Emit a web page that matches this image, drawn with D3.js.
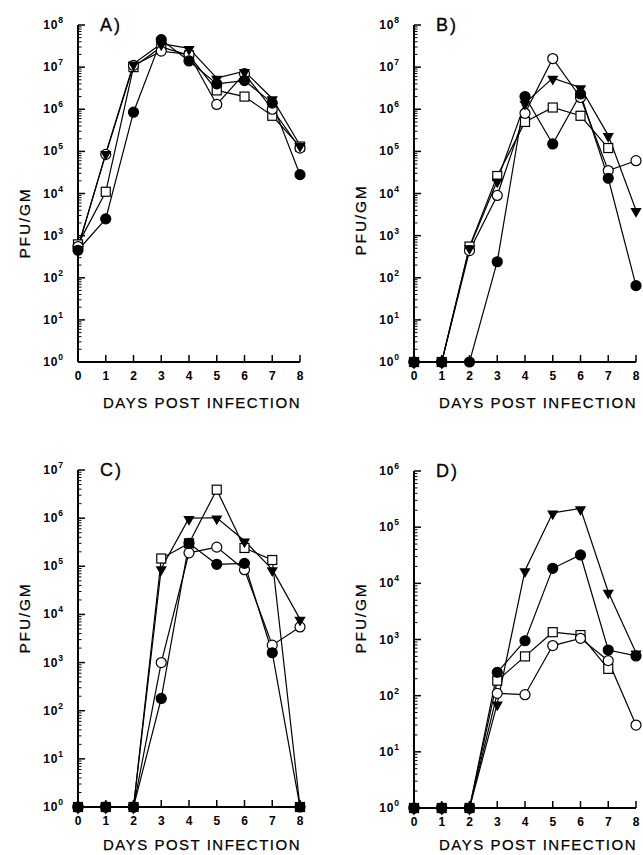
<!DOCTYPE html>
<html>
<head>
<meta charset="utf-8">
<script src="https://cdn.jsdelivr.net/npm/d3@7/dist/d3.min.js"></script>
<style>
  body { margin: 0; background: #fff; }
  text { font-family: "Liberation Sans", Arial, sans-serif; fill: #000; }
</style>
</head>
<body>
<svg width="643" height="855"></svg>
<script>
// days on the x axis
const days = [0, 1, 2, 3, 4, 5, 6, 7, 8]

// panel A (PFU/GM, one value per day)
const aFilledCircle = [450, 2500, 8.5e5, 4.5e7, 1.4e7, 4e6, 4.8e6, 1.4e6, 2.8e4]
const aOpenCircle = [550, 8.5e4, 1.1e7, 2.4e7, 2e7, 1.3e6, 7e6, 1e6, 1.2e5]
const aOpenSquare = [620, 1.1e4, 1e7, 3e7, 1.9e7, 2.8e6, 2e6, 7e5, 1.3e5]
const aTriangle = [500, 9e4, 1.2e7, 3.6e7, 2.8e7, 5.5e6, 8e6, 1.8e6, 1.4e5]

// panel B
const bFilledCircle = [1, 1, 1, 240, 2e6, 1.5e5, 2.3e6, 2.3e4, 65]
const bOpenCircle = [1, 1, 440, 9e3, 8e5, 1.6e7, 1.9e6, 3.5e4, 6e4]
const bOpenSquare = [1, 1, 550, 2.6e4, 5e5, 1.1e6, 7e5, 1.2e5, null]
const bTriangle = [1, 1, 520, 2e4, 1.4e6, 5.5e6, 3.3e6, 2.4e5, 4e3]

// panel C
const cFilledCircle = [1, 1, 1, 180, 3e5, 1.1e5, 1.15e5, 1.6e3, 1]
const cOpenCircle = [1, 1, 1, 1000, 1.9e5, 2.5e5, 8.5e4, 2.3e3, 5.5e3]
const cOpenSquare = [1, 1, 1, 1.45e5, 3e5, 3.9e6, 2.4e5, 1.35e5, 1]
const cTriangle = [1, 1, 1, 9e4, 1e6, 1.02e6, 3.4e5, 8.6e4, 8e3]

// panel D
const dFilledCircle = [1, 1, 1, 260, 950, 1.85e4, 3.2e4, 650, 510]
const dOpenCircle = [1, 1, 1, 110, 104, 780, 1.05e3, 420, 30]
const dOpenSquare = [1, 1, 1, 185, 500, 1.35e3, 1.2e3, 300, null]
const dTriangle = [1, 1, 1, 72, 1.7e4, 1.8e5, 2.15e5, 7e3, 580]

// exponents used as y tick labels
const aYExps = [0, 1, 2, 3, 4, 5, 6, 7, 8]
const bYExps = [0, 1, 2, 3, 4, 5, 6, 7, 8]
const cYExps = [0, 1, 2, 3, 4, 5, 6, 7]
const dYExps = [0, 1, 2, 3, 4, 5, 6]

const panelLabels = ['A)', 'B)', 'C)', 'D)']
const xTitle = 'DAYS POST INFECTION'
const yTitle = 'PFU/GM'

const svg = d3.select('svg')

// layout of each panel
const panels = [
  { label: panelLabels[0], left: 78, top: 25, bottom: 362, exps: aYExps, titleY: 223, xTitleDy: 46,
    series: [aOpenSquare, aOpenCircle, aTriangle, aFilledCircle] },
  { label: panelLabels[1], left: 414, top: 25, bottom: 362, exps: bYExps, titleY: 220, xTitleDy: 46,
    series: [bOpenSquare, bOpenCircle, bTriangle, bFilledCircle] },
  { label: panelLabels[2], left: 78, top: 470, bottom: 807, exps: cYExps, titleY: 618, xTitleDy: 43,
    series: [cOpenSquare, cOpenCircle, cTriangle, cFilledCircle] },
  { label: panelLabels[3], left: 414, top: 471, bottom: 808, exps: dYExps, titleY: 618, xTitleDy: 42,
    series: [dOpenSquare, dOpenCircle, dTriangle, dFilledCircle] },
]
// marker kinds, same order as panel.series
const kinds = ['square', 'openCircle', 'triangle', 'filledCircle']
const plotW = 222

panels.forEach((p) => {
  const g = svg.append('g')
  const x = d3.scaleLinear().domain([0, 8]).range([p.left, p.left + plotW])
  const maxExp = d3.max(p.exps)
  const y = d3.scaleLog().domain([1, Math.pow(10, maxExp)]).range([p.bottom, p.top])

  // y ticks (inward), minor ones for 2..9 of each decade
  const minor = []
  for (let e = 0; e < maxExp; e++) {
    for (let k = 2; k <= 9; k++) minor.push(k * Math.pow(10, e))
  }
  g.selectAll('.minor').data(minor).enter().append('line')
    .attr('x1', p.left).attr('x2', p.left + 3.5)
    .attr('y1', (d) => y(d)).attr('y2', (d) => y(d))
    .attr('stroke', '#000').attr('stroke-width', 1)
  g.selectAll('.major').data(p.exps).enter().append('line')
    .attr('x1', p.left).attr('x2', p.left + 7)
    .attr('y1', (d) => y(Math.pow(10, d))).attr('y2', (d) => y(Math.pow(10, d)))
    .attr('stroke', '#000').attr('stroke-width', 1.5)

  // y tick labels: 10 with superscript
  const yl = g.selectAll('.ylab').data(p.exps).enter().append('text')
    .attr('x', p.left - 15)
    .attr('y', (d) => y(Math.pow(10, d)) + 4)
    .attr('text-anchor', 'end')
    .attr('font-size', 12).attr('font-weight', 'bold')
  yl.append('tspan').attr('letter-spacing', 0.8).text('10')
  yl.append('tspan').attr('dy', -6).attr('font-size', 8.5).text((d) => d)

  // x ticks pointing up
  g.selectAll('.xt').data(days).enter().append('line')
    .attr('x1', (d) => x(d)).attr('x2', (d) => x(d))
    .attr('y1', p.bottom).attr('y2', p.bottom - 7)
    .attr('stroke', '#000').attr('stroke-width', 1.5)
  g.selectAll('.xlab').data(days).enter().append('text')
    .attr('x', (d) => x(d)).attr('y', p.bottom + 18)
    .attr('text-anchor', 'middle')
    .attr('font-size', 12).attr('font-weight', 'bold')
    .text((d) => d)

  // axis lines
  g.append('line').attr('x1', p.left).attr('x2', p.left)
    .attr('y1', p.top).attr('y2', p.bottom)
    .attr('stroke', '#000').attr('stroke-width', 2)
  g.append('line').attr('x1', p.left).attr('x2', p.left + plotW)
    .attr('y1', p.bottom).attr('y2', p.bottom)
    .attr('stroke', '#000').attr('stroke-width', 2)

  // titles
  g.append('text')
    .attr('x', p.left + 124).attr('y', p.bottom + p.xTitleDy)
    .attr('text-anchor', 'middle').attr('font-size', 15)
    .attr('letter-spacing', 1.5)
    .attr('stroke', '#000').attr('stroke-width', 0.25)
    .text(xTitle)
  g.append('text')
    .attr('transform', `translate(${p.left - 48},${p.titleY}) rotate(-90)`)
    .attr('text-anchor', 'middle').attr('font-size', 15.5)
    .attr('letter-spacing', 1.8)
    .attr('stroke', '#000').attr('stroke-width', 0.25)
    .text(yTitle)
  g.append('text')
    .attr('x', p.left + 22).attr('y', p.top + 6)
    .attr('font-size', 18).attr('letter-spacing', 2)
    .attr('stroke', '#000').attr('stroke-width', 0.3)
    .text(p.label)

  // lines
  const line = d3.line()
    .defined((d) => d.v != null)
    .x((d) => x(d.day))
    .y((d) => y(d.v))
  p.series.forEach((vals) => {
    const pts = days.map((day, i) => ({ day, v: vals[i] }))
    g.append('path').datum(pts)
      .attr('d', line)
      .attr('fill', 'none').attr('stroke', '#000').attr('stroke-width', 1.2)
  })

  // markers
  p.series.forEach((vals, si) => {
    const kind = kinds[si]
    const pts = days.map((day, i) => ({ day, v: vals[i] })).filter((d) => d.v != null)
    const m = g.append('g').selectAll('path').data(pts).enter()
    if (kind === 'square') {
      m.append('rect')
        .attr('x', (d) => x(d.day) - 4.5).attr('y', (d) => y(d.v) - 4.5)
        .attr('width', 9).attr('height', 9)
        .attr('fill', '#fff').attr('stroke', '#000').attr('stroke-width', 1.2)
    } else if (kind === 'triangle') {
      m.append('path')
        .attr('d', d3.symbol().type(d3.symbolTriangle).size(55))
        .attr('transform', (d) => `translate(${x(d.day)},${y(d.v) + 1}) rotate(180)`)
        .attr('fill', '#000')
    } else {
      m.append('circle')
        .attr('cx', (d) => x(d.day)).attr('cy', (d) => y(d.v))
        .attr('r', 5)
        .attr('fill', kind === 'filledCircle' ? '#000' : '#fff')
        .attr('stroke', '#000').attr('stroke-width', 1.2)
    }
  })
})
</script>
</body>
</html>
